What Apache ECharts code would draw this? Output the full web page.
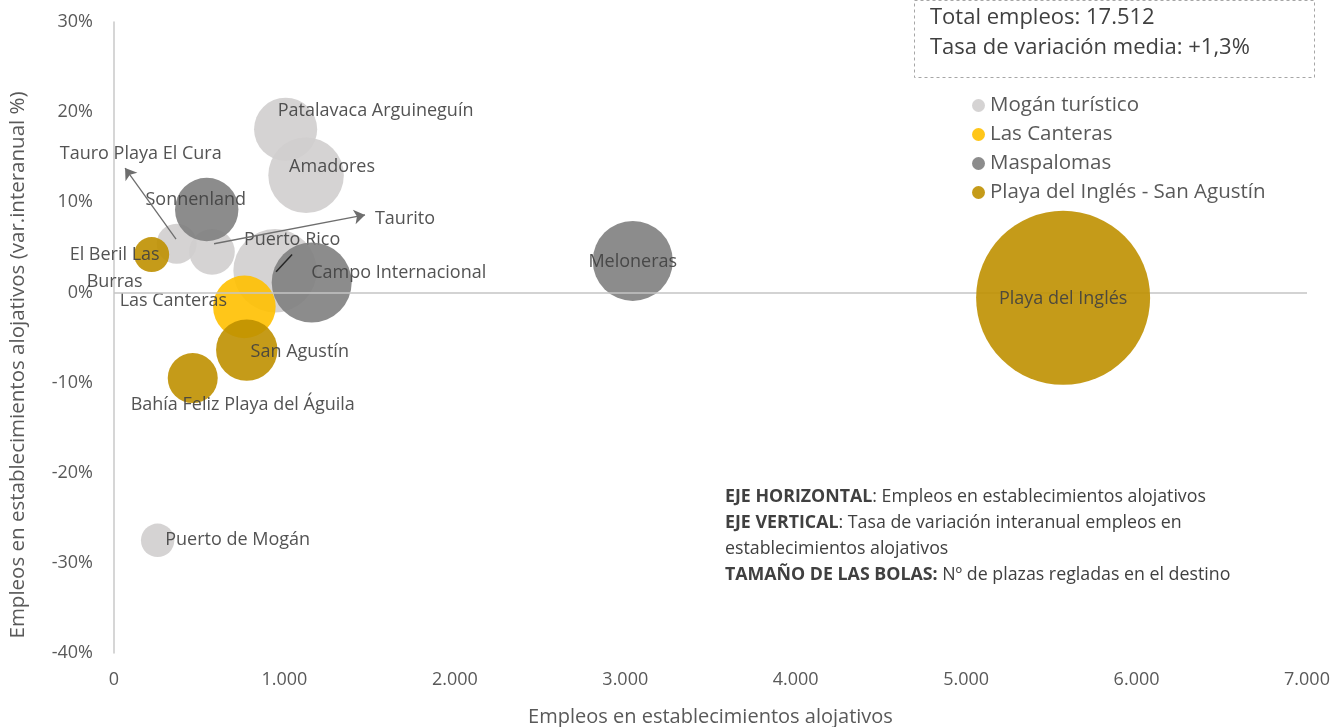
<!DOCTYPE html>
<html>
<head>
<meta charset="utf-8">
<script src="https://cdn.jsdelivr.net/npm/echarts@6/dist/echarts.min.js"></script>
<style>
html,body{margin:0;padding:0;background:#fff;}
#main{width:1334px;height:727px;}
</style>
</head>
<body>
<div id="main"></div>
<script>
// ---- Data ----
const seriesNames = ['Mogán turístico', 'Las Canteras', 'Maspalomas', 'Playa del Inglés - San Agustín'];
// [empleos, variación %, plazas, nombre]
const moganTuristico = [
  [1007, 18.1, 7900, 'Patalavaca Arguineguín'],
  [1127, 13.0, 11300, 'Amadores'],
  [368, 5.4, 3170, 'Tauro Playa El Cura'],
  [575, 4.5, 4120, 'Taurito'],
  [945, 2.4, 13780, 'Puerto Rico'],
  [256, -27.5, 2210, 'Puerto de Mogán']
];
const lasCanteras = [
  [765, -1.6, 7765, 'Las Canteras']
];
const maspalomas = [
  [544, 9.2, 7965, 'Sonnenland'],
  [1160, 1.1, 12680, 'Campo Internacional'],
  [3044, 3.5, 12680, 'Meloneras']
];
const playaInglesSanAgustin = [
  [221, 4.2, 2430, 'El Beril Las\nBurras'],
  [779, -6.4, 7470, 'San Agustín'],
  [462, -9.5, 4950, 'Bahía Feliz Playa del Águila'],
  [5569, -0.6, 60000, 'Playa del Inglés']
];
const yTicks = [-40, -30, -20, -10, 0, 10, 20, 30];
const xTicks = [0, 1000, 2000, 3000, 4000, 5000, 6000, 7000];
const xAxisTitle = 'Empleos en establecimientos alojativos';
const yAxisTitle = 'Empleos en establecimientos alojativos (var.interanual %)';
// leader arrows: [from, to] in data units
const arrowLines = [
  [[364, 5.9], [65, 13.8]],
  [[587, 5.4], [1473, 8.6]]
];
const leaderLines = [
  [[951, 2.3], [1045, 4.2]]
];

// label offsets (style only)
const labelOffsets = {
  'Patalavaca Arguineguín': [90, -18],
  'Amadores': [26, -8],
  'Tauro Playa El Cura': [-36, -90],
  'Taurito': [193, -33],
  'Puerto Rico': [17, -31],
  'Puerto de Mogán': [80, 0],
  'Las Canteras': [-71, -6],
  'Sonnenland': [-11, -10],
  'Campo Internacional': [87, -10],
  'Meloneras': [0, 1],
  'El Beril Las\nBurras': [-37, 14],
  'San Agustín': [53, 2],
  'Bahía Feliz Playa del Águila': [50, 27],
  'Playa del Inglés': [0, 1]
};

const colors = ['#D0CECE', '#FFC000', '#808080', '#BF9000'];
const FONT = '"Open Sans", Lato, sans-serif';

function mkSeries(name, arr, color, z) {
  return {
    name: name,
    type: 'scatter',
    z: z,
    data: arr.map(d => ({
      value: d,
      label: { offset: labelOffsets[d[3]] || [0, 0] }
    })),
    symbolSize: v => Math.sqrt(v[2]) * 0.7104,
    itemStyle: { color: color, opacity: 0.9 },
    emphasis: { disabled: true },
    label: {
      show: true,
      position: 'inside',
      formatter: p => p.value[3],
      color: '#404040',
      fontFamily: FONT,
      fontSize: 18,
      lineHeight: 27
    }
  };
}

const chart = echarts.init(document.getElementById('main'));
const option = {
  animation: false,
  backgroundColor: '#fff',
  grid: { left: 114, right: 27, top: 22, bottom: 74, containLabel: false, outerBoundsMode: 'none' },
  legend: {
    data: seriesNames,
    orient: 'vertical',
    left: 967,
    top: 90,
    icon: 'circle',
    itemWidth: 13,
    itemHeight: 13,
    itemGap: 8,
    textStyle: { color: '#595959', fontFamily: FONT, fontSize: 20.5, lineHeight: 20 }
  },
  xAxis: {
    type: 'value',
    min: xTicks[0], max: xTicks[xTicks.length - 1], interval: 1000,
    name: xAxisTitle,
    nameLocation: 'middle',
    nameGap: 54,
    nameTextStyle: { color: '#595959', fontFamily: FONT, fontSize: 20 },
    axisLine: { show: false, onZero: false },
    axisTick: { show: false },
    splitLine: { show: false },
    axisLabel: {
      color: '#595959', fontFamily: FONT, fontSize: 18, margin: 18,
      formatter: v => v === 0 ? '0' : v.toLocaleString('de-DE')
    }
  },
  yAxis: {
    type: 'value',
    min: yTicks[0], max: yTicks[yTicks.length - 1], interval: 10,
    axisLine: { show: true, onZero: false, lineStyle: { color: '#c9c9c9', width: 1.5 } },
    axisTick: { show: false },
    splitLine: { show: false },
    axisLabel: { color: '#595959', fontFamily: FONT, fontSize: 18, margin: 21, formatter: v => v + '%' }
  },
  series: [
    {
      name: 'zeroLine',
      type: 'scatter',
      data: [],
      z: 1,
      silent: true,
      markLine: {
        silent: true,
        animation: false,
        symbol: ['none', 'none'],
        label: { show: false },
        lineStyle: { color: '#c4c4c4', width: 1.5, type: 'solid' },
        emphasis: { disabled: true },
        data: [ { yAxis: 0 } ]
      }
    },
    mkSeries(seriesNames[0], moganTuristico, colors[0], 2),
    mkSeries(seriesNames[1], lasCanteras, colors[1], 3),
    mkSeries(seriesNames[2], maspalomas, colors[2], 4),
    mkSeries(seriesNames[3], playaInglesSanAgustin, colors[3], 5),
    {
      name: 'arrows',
      type: 'scatter',
      data: [],
      z: 10,
      silent: true,
      markLine: {
        silent: true,
        animation: false,
        label: { show: false },
        emphasis: { disabled: true },
        symbol: ['none', 'arrow'],
        symbolSize: 11,
        data: arrowLines.map(l => [ { coord: l[0] }, { coord: l[1] } ]),
        lineStyle: { color: '#6e6e6e', width: 1.3, type: 'solid' }
      }
    },
    {
      name: 'leaders',
      type: 'scatter',
      data: [],
      z: 10,
      silent: true,
      markLine: {
        silent: true,
        animation: false,
        label: { show: false },
        emphasis: { disabled: true },
        symbol: ['none', 'none'],
        data: leaderLines.map(l => [ { coord: l[0] }, { coord: l[1] } ]),
        lineStyle: { color: '#262626', width: 1.5, type: 'solid' }
      }
    }
  ],
  graphic: [
    {
      type: 'text',
      x: 18, y: 365,
      rotation: Math.PI / 2,
      style: {
        text: yAxisTitle,
        fill: '#595959', fontFamily: FONT, fontSize: 20.5,
        align: 'center', verticalAlign: 'middle'
      }
    },
    {
      type: 'rect',
      left: 912, top: -2,
      shape: { width: 400, height: 77 },
      style: { fill: 'none', stroke: '#a6a6a6', lineWidth: 1, lineDash: [3, 3] }
    },
    {
      type: 'text',
      left: 930, top: 3,
      style: {
        text: 'Total empleos: 17.512\nTasa de variación media: +1,3%',
        fill: '#404040', fontFamily: FONT, fontSize: 22, lineHeight: 30
      }
    },
    {
      type: 'text',
      left: 725, top: 484,
      style: {
        text: '{b|EJE HORIZONTAL}: Empleos en establecimientos alojativos\n{b|EJE VERTICAL}: Tasa de variación interanual empleos en\nestablecimientos alojativos\n{b|TAMAÑO DE LAS BOLAS:} Nº de plazas regladas en el destino',
        fill: '#404040', fontFamily: FONT, fontSize: 17.8, lineHeight: 26,
        rich: { b: { fontWeight: 'bold', fill: '#404040', fontFamily: FONT, fontSize: 17.8, lineHeight: 26 } }
      }
    }
  ]
};
chart.setOption(option);
</script>
</body>
</html>
